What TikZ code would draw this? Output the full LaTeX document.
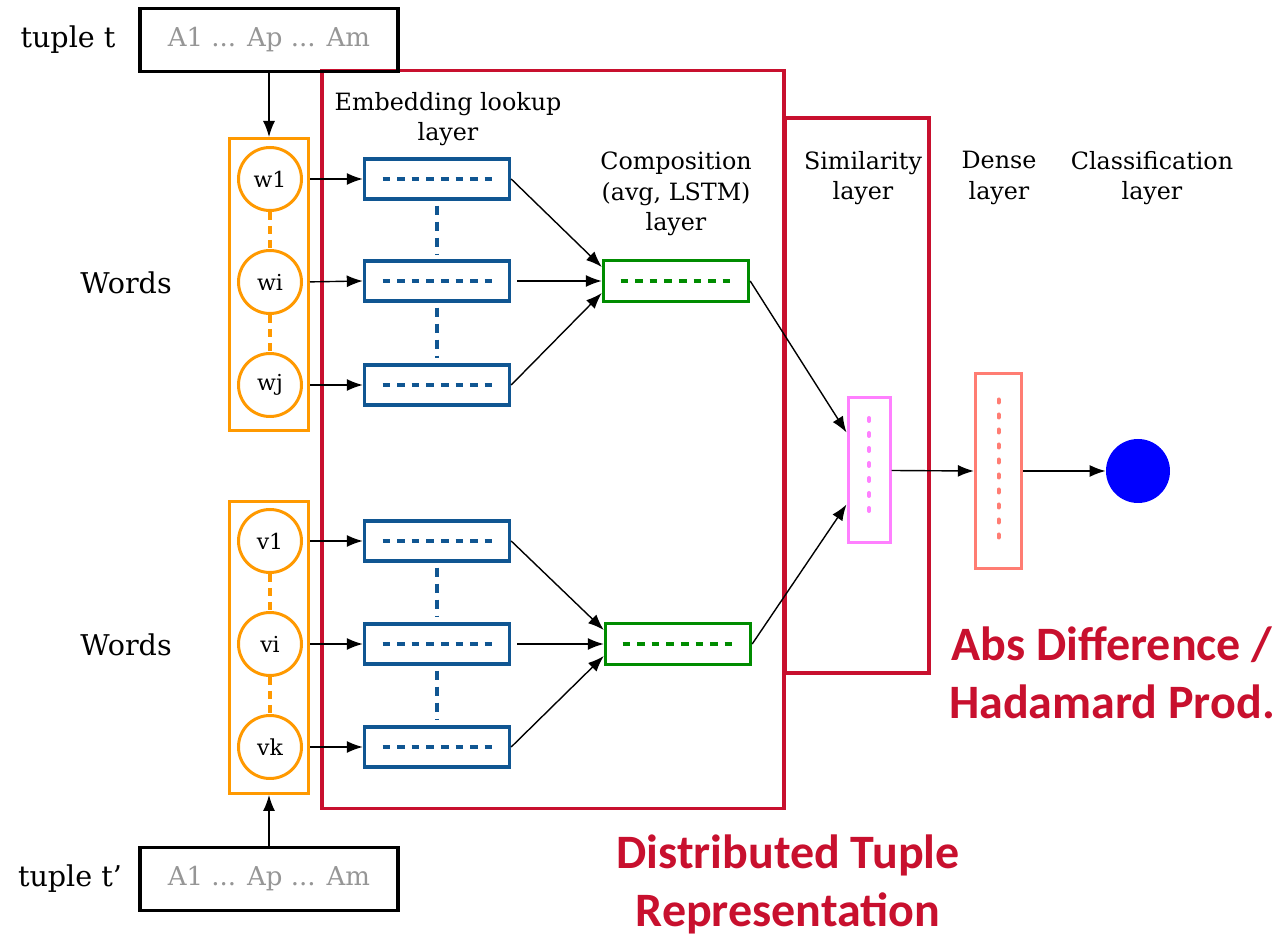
\documentclass[tikz,border=0pt]{standalone}
\usepackage{fontspec}
\setmainfont{DejaVu Serif}
\newfontfamily\redfont{Carlito}
\usetikzlibrary{arrows.meta,calc}
\definecolor{myred}{RGB}{200,16,46}
\definecolor{myorange}{RGB}{255,153,0}
\definecolor{myblue}{RGB}{16,86,146}
\definecolor{mygreen}{RGB}{0,140,0}
\definecolor{mypink}{RGB}{255,128,255}
\definecolor{mysalmon}{RGB}{255,125,115}
\definecolor{mygray}{RGB}{150,150,150}
\tikzset{
  arr/.style={-{Latex[length=8pt,width=6pt]}, line width=0.7pt, black},
  tuplebox/.style={draw=black, line width=1.7pt, minimum width=129pt, minimum height=31.5pt, inner sep=0pt, text=mygray, font=\fontsize{13}{15}\selectfont},
  lbl/.style={font=\fontsize{14.3}{17}\selectfont, inner sep=0pt},
  hdr/.style={font=\fontsize{11.9}{15.3}\selectfont, align=center, inner sep=0pt},
  wordbox/.style={draw=myorange, line width=1.5pt, minimum width=39.5pt, minimum height=146pt, inner sep=0pt},
  wcirc/.style={circle, draw=myorange, line width=1.5pt, minimum size=31.5pt, inner sep=0pt, font=\fontsize{11}{13}\selectfont},
  odash/.style={myorange, line width=1.6pt, dash pattern=on 4pt off 3pt},
  bdash/.style={myblue, line width=1.6pt, dash pattern=on 4.5pt off 3.5pt},
  emb/.style={draw=myblue, line width=1.7pt, minimum width=72.5pt, minimum height=20pt, inner sep=0pt,
    path picture={\draw[myblue, line width=1.6pt, dash pattern=on 3.8pt off 3.5pt] ([xshift=9pt]path picture bounding box.west) -- ([xshift=-9pt]path picture bounding box.east);}},
  comp/.style={draw=mygreen, line width=1.7pt, minimum width=72.5pt, minimum height=20.5pt, inner sep=0pt,
    path picture={\draw[mygreen, line width=1.6pt, dash pattern=on 3.8pt off 3.5pt] ([xshift=8.5pt]path picture bounding box.west) -- ([xshift=-8.5pt]path picture bounding box.east);}},
  simbox/.style={draw=mypink, line width=1.5pt, minimum width=21pt, minimum height=72.5pt, inner sep=0pt,
    path picture={\draw[mypink, line width=2pt, line cap=round, dash pattern=on 1.5pt off 6pt] ([yshift=-10pt]path picture bounding box.north) -- ([yshift=10pt]path picture bounding box.south);}},
  densebox/.style={draw=mysalmon, line width=1.7pt, minimum width=23pt, minimum height=97.5pt, inner sep=0pt,
    path picture={\draw[mysalmon, line width=2pt, line cap=round, dash pattern=on 1.5pt off 6pt] ([yshift=-13pt]path picture bounding box.north) -- ([yshift=12pt]path picture bounding box.south);}},
  redbox/.style={draw=myred, line width=1.6pt, inner sep=0pt},
  redtxt/.style={text=myred, font=\redfont\bfseries\fontsize{24}{29}\selectfont, align=center, inner sep=0pt},
}
\begin{document}
\begin{tikzpicture}[x=0.5pt,y=-0.5pt]
\useasboundingbox (0,0) rectangle (1276,940);

% group boxes
\node[redbox, minimum width=231pt, minimum height=369pt] (grp) at (553,439.5) {};
\node[redbox, minimum width=72pt, minimum height=277.5pt] (simgrp) at (857,395.5) {};

% tuples
\node[tuplebox] (tt) at (269,40) {A1 ... Ap ... Am};
\node[lbl] (ttl) at (68,40) {tuple t};
\node[tuplebox] (ttp) at (269,879) {A1 ... Ap ... Am};
\node[lbl] (ttpl) at (70,879) {tuple t’};

% words labels
\node[lbl] (wl1) at (126,283) {Words};
\node[lbl] (wl2) at (126,645) {Words};

% word boxes
\node[wordbox] (ow) at (269,284.5) {};
\node[wordbox] (ov) at (269,647.5) {};
\node[wcirc] (w1) at (270,179) {w1};
\node[wcirc] (wi) at (270,282) {wi};
\node[wcirc] (wj) at (270,385) {wj};
\node[wcirc] (v1) at (270,541) {v1};
\node[wcirc] (vi) at (270,644) {vi};
\node[wcirc] (vk) at (270,747) {vk};
\draw[odash] (w1.south) -- (wi.north);
\draw[odash] (wi.south) -- (wj.north);
\draw[odash] (v1.south) -- (vi.north);
\draw[odash] (vi.south) -- (vk.north);

% embeddings
\node[emb] (e1) at (437,179) {};
\node[emb] (e2) at (437,281) {};
\node[emb] (e3) at (437,385) {};
\node[emb] (e4) at (437,541) {};
\node[emb] (e5) at (437,644) {};
\node[emb] (e6) at (437,747) {};
\draw[bdash] ([yshift=-2.5pt]e1.south) -- ([yshift=2.5pt]e2.north);
\draw[bdash] ([yshift=-2.5pt]e2.south) -- ([yshift=2.5pt]e3.north);
\draw[bdash] ([yshift=-2.5pt]e4.south) -- ([yshift=2.5pt]e5.north);
\draw[bdash] ([yshift=-2.5pt]e5.south) -- ([yshift=2.5pt]e6.north);

% composition
\node[comp] (c1) at (676,281) {};
\node[comp] (c2) at (678,644) {};

% similarity, dense, output
\node[simbox] (sim) at (869,470.5) {};
\node[densebox] (dense) at (998.5,471) {};
\node[circle, fill=blue, minimum size=32pt, inner sep=0pt] (out) at (1138,471) {};

% headers
\node[hdr] (h1) at (448,119) {Embedding lookup\\layer};
\node[hdr] (h2) at (676,194) {Composition\\(avg, LSTM)\\layer};
\node[hdr] (h3) at (863,178) {Similarity\\layer};
\node[hdr] (h4) at (999,178) {Dense\\layer};
\node[hdr] (h5) at (1152,178) {Classification\\layer};

% red captions
\node[redtxt] (cap1) at (1112,673) {Abs Difference /\\Hadamard Prod.};
\node[redtxt] (cap2) at (788,884) {Distributed Tuple\\Representation};

% arrows
\draw[arr] (tt.south) -- (ow.north);
\draw[arr] (ttp.north) -- (ov.south);
\foreach \a/\b in {w1/e1,wi/e2,wj/e3,v1/e4,vi/e5,vk/e6}{
  \draw[arr, shorten <=3.5pt] (\a.east) -- (\b.west);
}
\draw[arr] (e1.east) -- ([yshift=7pt]c1.west);
\draw[arr, shorten <=3pt] (e2.east) -- (c1.west);
\draw[arr] (e3.east) -- ([yshift=-6pt]c1.west);
\draw[arr] (e4.east) -- ([yshift=7pt]c2.west);
\draw[arr, shorten <=3pt] (e5.east) -- (c2.west);
\draw[arr] (e6.east) -- ([yshift=-6pt]c2.west);
\draw[arr] (c1.east) -- ([yshift=19pt]sim.west);
\draw[arr] (c2.east) -- ([yshift=-17pt]sim.west);
\draw[arr] (sim.east) -- (dense.west);
\draw[arr] (dense.east) -- (out.west);
\end{tikzpicture}
\end{document}
